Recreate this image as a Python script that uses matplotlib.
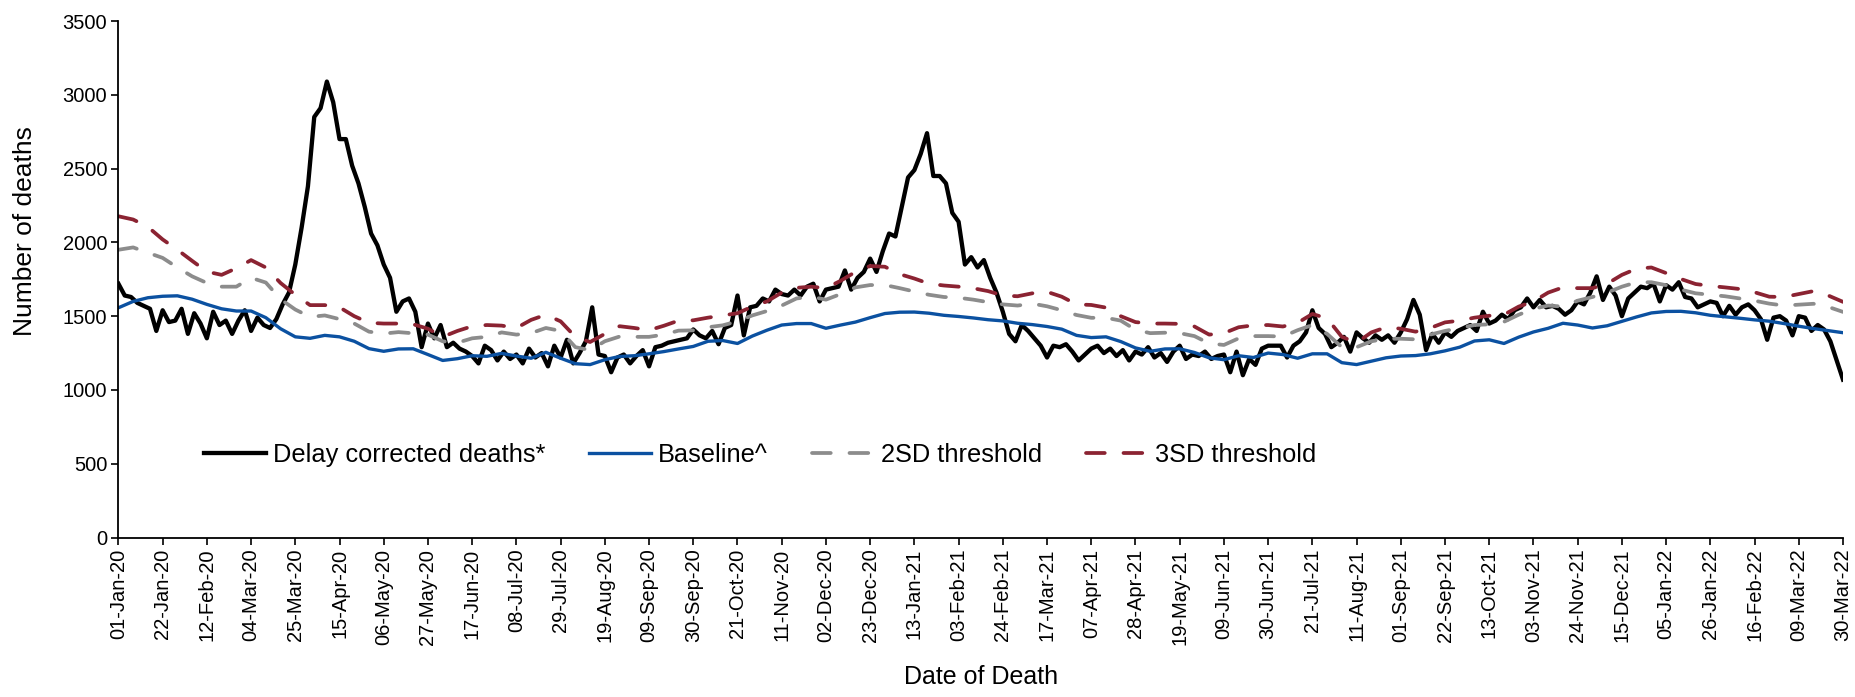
import numpy as np
import pandas as pd
import matplotlib
matplotlib.use('Agg')
import matplotlib.pyplot as plt
import matplotlib.dates as mdates

plt.rcParams['font.family'] = ['Liberation Sans', 'DejaVu Sans']

# delay corrected deaths, read every 3 days from 01-Jan-20
deaths = [
    1720, 1640, 1630, 1590, 1570, 1550, 1400, 1540, 1460, 1470,
    1550, 1380, 1520, 1450, 1350, 1530, 1440, 1470, 1380, 1470,
    1540, 1400, 1490, 1440, 1420, 1480, 1580, 1660, 1850, 2100,
    2380, 2850, 2910, 3090, 2950, 2700, 2700, 2520, 2400, 2240,
    2060, 1980, 1850, 1760, 1530, 1600, 1620, 1530, 1290, 1450,
    1350, 1440, 1290, 1320, 1280, 1260, 1230, 1180, 1300, 1270,
    1200, 1260, 1210, 1240, 1180, 1280, 1220, 1250, 1160, 1300,
    1220, 1340, 1180, 1250, 1330, 1560, 1240, 1230, 1120, 1220,
    1240, 1180, 1230, 1270, 1160, 1290, 1300, 1320, 1330, 1340,
    1350, 1410, 1370, 1350, 1400, 1310, 1420, 1440, 1640, 1370,
    1560, 1570, 1620, 1600, 1680, 1650, 1640, 1680, 1640, 1700,
    1720, 1600, 1680, 1690, 1700, 1810, 1680, 1760, 1800, 1890,
    1800, 1940, 2060, 2040, 2240, 2440, 2490, 2600, 2740, 2450,
    2450, 2400, 2200, 2140, 1850, 1900, 1830, 1880, 1760, 1660,
    1530, 1380, 1330, 1440, 1400, 1350, 1300, 1220, 1300, 1290,
    1310, 1260, 1200, 1240, 1280, 1300, 1250, 1280, 1230, 1270,
    1200, 1260, 1240, 1290, 1220, 1250, 1190, 1260, 1300, 1210,
    1240, 1230, 1260, 1210, 1230, 1240, 1120, 1260, 1100, 1210,
    1170, 1280, 1300, 1300, 1300, 1220, 1300, 1330, 1390, 1540,
    1420, 1380, 1290, 1320, 1360, 1260, 1390, 1350, 1320, 1370,
    1340, 1370, 1320, 1390, 1480, 1610, 1510, 1270, 1380, 1320,
    1390, 1360, 1400, 1420, 1440, 1400, 1530, 1450, 1470, 1510,
    1480, 1540, 1560, 1620, 1560, 1610, 1560, 1570, 1550, 1510,
    1540, 1600, 1580, 1660, 1770, 1610, 1700, 1640, 1500, 1620,
    1660, 1700, 1690, 1720, 1600, 1710, 1680, 1730, 1630, 1620,
    1560, 1580, 1600, 1590, 1500, 1570, 1510, 1560, 1580, 1540,
    1480, 1340, 1490, 1500, 1470, 1370, 1500, 1490, 1400, 1440,
    1410, 1330, 1200, 1070,
]

# baseline and thresholds, read every 7 days from 01-Jan-20
baseline = [
    1557, 1600, 1625, 1635, 1638, 1615, 1580, 1550, 1535, 1535,
    1490, 1415, 1360, 1350, 1370, 1360, 1330, 1280, 1262, 1278,
    1279, 1240, 1200, 1212, 1232, 1228, 1248, 1230, 1215, 1255,
    1215, 1178, 1172, 1205, 1227, 1232, 1245, 1260, 1278, 1295,
    1330, 1335, 1315, 1365, 1405, 1440, 1450, 1450, 1418, 1440,
    1460, 1490, 1518, 1527, 1528, 1520, 1506, 1498, 1488, 1476,
    1468, 1452, 1443, 1430, 1412, 1370, 1355, 1360, 1328, 1285,
    1262, 1278, 1279, 1254, 1218, 1205, 1232, 1220, 1250, 1240,
    1215, 1245, 1245, 1185, 1172, 1195, 1218, 1230, 1233, 1245,
    1265, 1290, 1332, 1340, 1315, 1358, 1393, 1418, 1452, 1440,
    1420, 1435, 1465, 1495, 1522, 1532, 1533, 1523, 1506, 1496,
    1486, 1475, 1466, 1450, 1432, 1416, 1402, 1388,
]

sd2 = [
    1950, 1966, 1930, 1895, 1830, 1770, 1725, 1700, 1700, 1760,
    1728, 1615, 1545, 1495, 1505, 1480, 1450, 1395, 1382, 1392,
    1384, 1375, 1330, 1320, 1350, 1360, 1390, 1375, 1385, 1420,
    1400, 1290, 1270, 1330, 1362, 1360, 1360, 1375, 1402, 1404,
    1425, 1438, 1465, 1505, 1535, 1572, 1620, 1632, 1612, 1650,
    1695, 1711, 1711, 1690, 1667, 1645, 1630, 1625, 1612, 1595,
    1580, 1572, 1585, 1567, 1540, 1508, 1489, 1489, 1470, 1408,
    1385, 1388, 1385, 1365, 1315, 1305, 1350, 1365, 1365, 1362,
    1405, 1440, 1380, 1290, 1290, 1330, 1347, 1347, 1343, 1375,
    1400, 1420, 1440, 1445, 1462, 1510, 1550, 1572, 1565, 1605,
    1630, 1660, 1700, 1730, 1730, 1710, 1680, 1655, 1645, 1635,
    1620, 1605, 1585, 1572, 1578, 1584, 1563, 1529,
]

sd3 = [
    2177, 2155, 2105, 2020, 1950, 1875, 1802, 1780, 1825, 1880,
    1830, 1725, 1645, 1575, 1575, 1560, 1500, 1455, 1450, 1450,
    1445, 1415, 1360, 1400, 1432, 1440, 1436, 1420, 1475, 1510,
    1465, 1360, 1325, 1380, 1432, 1420, 1405, 1435, 1470, 1472,
    1490, 1505, 1520, 1565, 1600, 1660, 1692, 1700, 1690, 1740,
    1800, 1840, 1835, 1785, 1755, 1720, 1708, 1700, 1689, 1670,
    1640, 1635, 1655, 1665, 1632, 1580, 1576, 1558, 1500, 1460,
    1450, 1450, 1448, 1430, 1375, 1385, 1425, 1438, 1440, 1430,
    1455, 1515, 1485, 1360, 1320, 1390, 1425, 1415, 1395, 1420,
    1458, 1470, 1490, 1503, 1510, 1565, 1600, 1660, 1695, 1690,
    1690, 1720, 1780, 1822, 1830, 1792, 1752, 1718, 1705, 1695,
    1684, 1662, 1632, 1630, 1650, 1670, 1640, 1597,
]

daily_dates = pd.date_range('2020-01-01', periods=len(deaths), freq='3D')
weekly_dates = pd.date_range('2020-01-01', periods=len(baseline), freq='7D')
tick_dates = pd.date_range('2020-01-01', '2022-03-30', freq='21D')

fig = plt.figure(figsize=(18.56, 6.97), dpi=100)
ax = fig.add_axes([0.0638, 0.2288, 0.9292, 0.741])

ax.plot(daily_dates, deaths, color='black', lw=3.1, solid_joinstyle='round',
        label='Delay corrected deaths*')
ax.plot(weekly_dates, baseline, color='#0B51A1', lw=2.4, label='Baseline^')
ax.plot(weekly_dates, sd2, color='#8C8C8C', lw=2.7, ls=(0, (5, 5)),
        dash_capstyle='round', label='2SD threshold')
ax.plot(weekly_dates, sd3, color='#8B2332', lw=2.7, ls=(0, (5, 5)),
        dash_capstyle='round', label='3SD threshold')

ax.set_xlim(tick_dates[0], tick_dates[-1])
ax.set_ylim(0, 3500)
ax.set_yticks(np.arange(0, 3501, 500))
ax.set_xticks(tick_dates)
ax.xaxis.set_major_formatter(mdates.DateFormatter('%d-%b-%y'))
plt.setp(ax.get_xticklabels(), rotation=90)

for side in ['top', 'right']:
    ax.spines[side].set_visible(False)
for side in ['left', 'bottom']:
    ax.spines[side].set_linewidth(1.3)
ax.tick_params(direction='out', length=5, width=1.2, labelsize=14.5, pad=3)

ax.set_ylabel('Number of deaths', fontsize=19)
ax.set_xlabel('Date of Death', fontsize=18)
ax.yaxis.set_label_coords(-0.047, 0.593)
ax.xaxis.set_label_coords(0.5, -0.247)

ax.legend(loc='center left', bbox_to_anchor=(0.0496, 0.16), ncol=4, frameon=False,
          fontsize=18.3, handlelength=2.44, handletextpad=0.28, columnspacing=1.72,
          borderpad=0, borderaxespad=0)

fig.savefig('out.png', dpi=100)
